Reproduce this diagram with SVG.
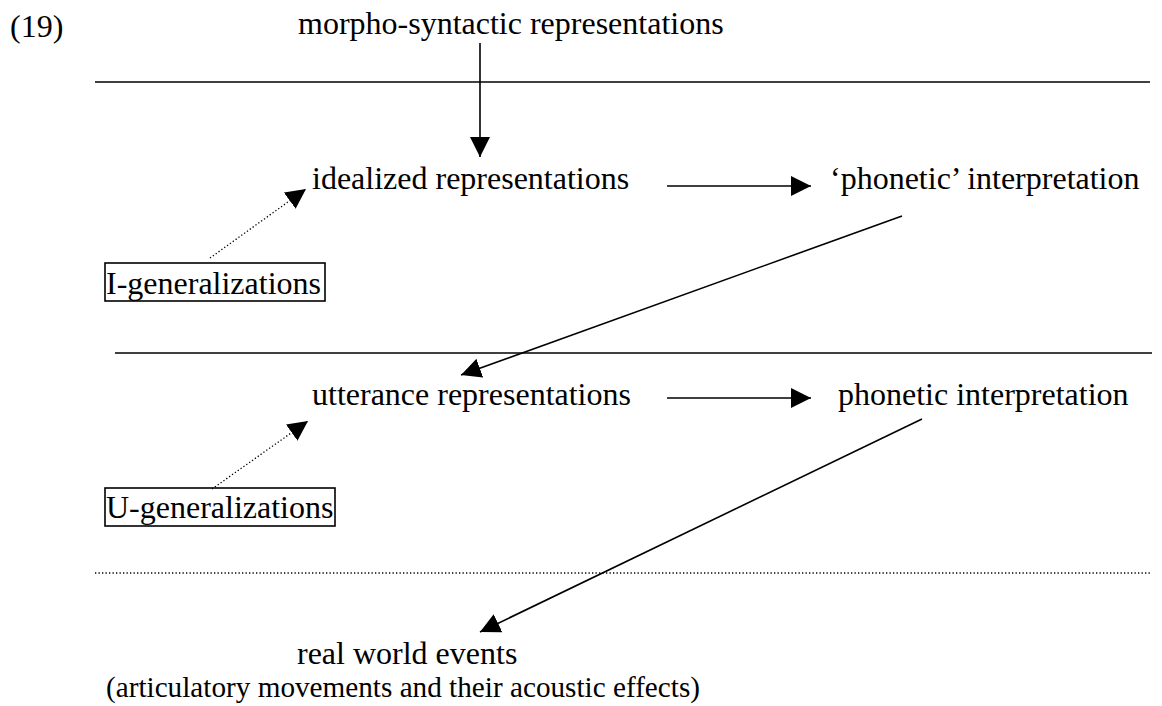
<svg xmlns="http://www.w3.org/2000/svg" width="1162" height="706" viewBox="0 0 1162 706">
<style>
text{font-family:"Liberation Serif","Times New Roman",serif;font-size:32px;fill:#000}
.ln{stroke:#000;stroke-width:1.6;fill:none}
.sep{stroke:#000;stroke-width:1.4}
.dot{stroke:#000;stroke-width:1.3;stroke-dasharray:1.3 2.2;fill:none}
.box{fill:none;stroke:#000;stroke-width:1.6}
</style>
<defs>
<marker id="ah" viewBox="0 0 20 20" refX="20" refY="10" markerWidth="20" markerHeight="20" markerUnits="userSpaceOnUse" orient="auto">
<path d="M0,0 L20,10 L0,20 Z" fill="#000"/>
</marker>
</defs>
<rect width="1162" height="706" fill="#fff"/>
<text x="10" y="37">(19)</text>
<line class="sep" x1="95" y1="82" x2="1150" y2="82"/>
<line class="sep" x1="115" y1="353" x2="1152" y2="353"/>
<line class="dot" x1="95" y1="573" x2="1150" y2="573"/>
<g id="n-morpho"><text x="298" y="34">morpho-syntactic representations</text></g>
<g id="n-idealized"><text x="312" y="189">idealized representations</text></g>
<g id="n-phonetic1"><text x="830" y="189">‘phonetic’ interpretation</text></g>
<g id="n-igen"><rect class="box" x="105" y="263" width="220" height="38"/><text x="106" y="294">I-generalizations</text></g>
<g id="n-utterance"><text x="312" y="405">utterance representations</text></g>
<g id="n-phonetic2"><text x="838" y="405">phonetic interpretation</text></g>
<g id="n-ugen"><rect class="box" x="105" y="488" width="230" height="38"/><text x="106" y="518">U-generalizations</text></g>
<g id="n-real"><text x="297" y="664">real world events</text><text x="106" y="697" style="font-size:29px" textLength="594" lengthAdjust="spacingAndGlyphs">(articulatory movements and their acoustic effects)</text></g>
<g id="connectors">
<line class="ln" x1="480" y1="43" x2="480" y2="157" marker-end="url(#ah)"/>
<line class="ln" x1="667" y1="186" x2="811" y2="186" marker-end="url(#ah)"/>
<line class="ln" x1="667" y1="398" x2="811" y2="398" marker-end="url(#ah)"/>
<line class="ln" x1="902" y1="216" x2="461" y2="375" marker-end="url(#ah)"/>
<line class="ln" x1="922" y1="419" x2="480" y2="632" marker-end="url(#ah)"/>
<line class="dot" x1="210" y1="258" x2="306" y2="189" marker-end="url(#ah)"/>
<line class="dot" x1="212" y1="489" x2="308" y2="421" marker-end="url(#ah)"/>
</g>
</svg>
